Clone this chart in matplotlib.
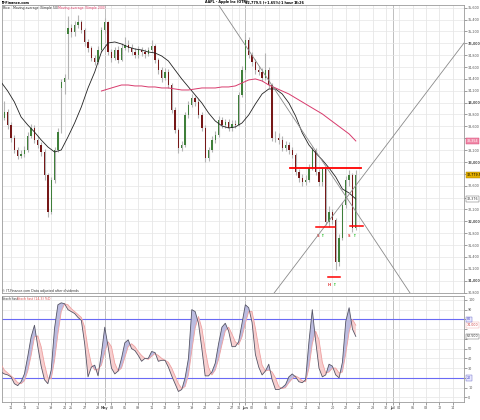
import numpy as np
import matplotlib
matplotlib.use("Agg")
import matplotlib.pyplot as plt
import matplotlib.transforms as mtransforms

# bars: two per trading day, x in trading-day units (0 = Apr 11)
bar_start = -1.5
bar_step = 0.5

closes = [
    33741, 33842, 33623, 33404, 33202, 33101, 33135, 33202, 33438, 33573,
    33371, 33286, 33168, 32781, 32158, 32697, 33202, 33505, 34348, 34415,
    35258, 35190, 35308, 35359, 35224, 35022, 34921, 34752, 34685, 34887,
    35224, 35359, 34853, 34752, 34887, 34719, 34921, 34971, 34921, 34853,
    34803, 34887, 34853, 34820, 34887, 34955, 34719, 34550, 34415, 34516,
    34297, 33876, 33539, 33236, 33286, 33792, 33960, 34078, 34011, 33792,
    33573, 33067, 33202, 33371, 33455, 33708, 33623, 33674, 33573, 33640,
    33623, 34129, 34550, 35056, 34803, 34685, 34550, 34516, 34415, 34550,
    34297, 33404, 33404, 33371, 33236, 33286, 33202, 33118, 32831, 32730,
    32663, 32697, 32899, 33202, 32831, 32663, 32880, 31989, 32158, 32023,
    31315, 31720, 32276, 32697, 32781, 31888, 32779.5]
highs = [
    33800, 34030, 33900, 33680, 33450, 33260, 33200, 33270, 33500, 33640,
    33620, 33430, 33330, 33220, 32820, 32740, 33250, 33580, 34400, 34480,
    35460, 35320, 35380, 35470, 35400, 35260, 35080, 34960, 34800, 34950,
    35280, 35420, 35380, 34900, 34940, 34950, 35000, 35100, 35050, 34980,
    34920, 34950, 34930, 34900, 34940, 35060, 34990, 34760, 34600, 34580,
    34560, 34330, 33920, 33580, 33350, 33850, 34030, 34150, 34120, 34060,
    33840, 33620, 33260, 33430, 33520, 33780, 33760, 33730, 33720, 33700,
    33700, 34180, 34620, 35170, 35100, 34860, 34740, 34620, 34580, 34830,
    34600, 34330, 33520, 33480, 33430, 33360, 33330, 33260, 33150, 32880,
    32800, 32780, 32960, 33250, 33230, 32880, 32920, 32920, 32250, 32200,
    32060, 31780, 32330, 32760, 32860, 32820, 32860]
lows = [
    33620, 33700, 33560, 33340, 33150, 33050, 33060, 33090, 33160, 33400,
    33320, 33230, 33100, 32700, 32080, 32120, 32650, 33160, 33480, 34150,
    34400, 35100, 35130, 35250, 35170, 34960, 34850, 34700, 34630, 34650,
    34860, 35180, 34800, 34680, 34720, 34670, 34700, 34880, 34860, 34800,
    34750, 34760, 34790, 34760, 34780, 34850, 34660, 34490, 34350, 34380,
    34240, 33820, 33480, 33150, 33180, 33250, 33740, 33920, 33950, 33740,
    33520, 33000, 33020, 33160, 33320, 33420, 33580, 33570, 33520, 33530,
    33570, 33600, 34100, 34520, 34750, 34620, 34490, 34460, 34360, 34380,
    34240, 33350, 33330, 33300, 33180, 33190, 33140, 33060, 32780, 32670,
    32600, 32620, 32660, 32870, 32780, 32600, 32590, 31940, 31900, 31960,
    31180, 31250, 31680, 32230, 32600, 31820, 31860]
first_open = 33680
gap_opens = {18: 34250, 20: 35150}

# moving averages, one value per trading day
sma50_start = -1.5
sma50 = [
    34348, 34196, 34011, 33758, 33623, 33505, 33371, 33253, 33168, 33202,
    33421, 33657, 33927, 34247, 34516, 34853, 35005, 35022, 34988, 34938,
    34904, 34887, 34853, 34837, 34786, 34702, 34550, 34399, 34264, 34129,
    33994, 33826, 33691, 33607, 33573, 33590, 33657, 33792, 33977, 34146,
    34230, 34230, 34146, 33994, 33775, 33489, 33286, 33151, 33034, 32899,
    32747, 32545, 32477, 32376]
sma200_start = 13.5
sma200 = [
    34196, 34230, 34264, 34297, 34297, 34281, 34281, 34264, 34264, 34247,
    34247, 34230, 34213, 34213, 34230, 34247, 34247, 34247, 34264, 34264,
    34281, 34331, 34382, 34399, 34365, 34297, 34247, 34196, 34146, 34078,
    34011, 33943, 33876, 33809, 33724, 33640, 33556, 33472, 33354]

stoch_k = [
    26, 24, 23, 21, 14, 12, 16, 24, 42, 62,
    74, 52, 32, 18, 14, 28, 71, 95, 97, 96,
    90, 88, 86, 82, 79, 55, 21, 31, 33, 22,
    45, 72, 52, 30, 24, 27, 40, 56, 59, 50,
    48, 43, 37, 40, 40, 47, 46, 37, 38, 38,
    31, 22, 14, 6, 8, 20, 40, 90, 88, 76,
    50, 22, 22, 26, 35, 55, 72, 76, 68, 52,
    52, 57, 76, 95, 92, 77, 44, 31, 23, 27,
    34, 18, 8, 8, 10, 13, 21, 24, 21, 16,
    15, 18, 57, 90, 58, 30, 21, 23, 34, 32,
    23, 20, 36, 78, 92, 70, 62.5]
stoch_d = [
    34, 28, 25, 22, 19, 15, 14, 17, 27, 43,
    62, 63, 52, 34, 20, 19, 38, 65, 88, 96,
    95, 91, 88, 85, 82, 72, 50, 34, 28, 29,
    33, 46, 57, 52, 35, 27, 30, 41, 52, 55,
    52, 47, 43, 40, 39, 42, 45, 43, 40, 38,
    36, 30, 22, 14, 9, 11, 23, 48, 71, 83,
    71, 49, 31, 23, 28, 39, 54, 68, 72, 65,
    57, 54, 62, 76, 88, 88, 71, 51, 33, 27,
    28, 26, 20, 11, 9, 10, 15, 19, 22, 20,
    17, 16, 30, 55, 68, 59, 36, 25, 26, 30,
    30, 25, 26, 45, 67, 80, 74]

tick_days = [0, 2, 4, 6, 8, 9, 11, 13, 14, 15, 17, 19, 21, 23, 25, 27, 29, 31,
             33, 34, 35, 36, 38, 40, 42, 44, 46, 48, 50, 52, 54, 56, 57, 58,
             60, 62, 64, 66]
tick_labels = ["11", "13", "15", "19", "21", "25", "27", "29", "May", "03",
               "05", "09", "11", "13", "17", "19", "23", "25", "27", "31",
               "Jun", "02", "06", "08", "10", "14", "16", "20", "22", "24",
               "28", "30", "Jul", "04", "06", "08", "12", "14"]
month_labels = ["May", "Jun", "Jul"]

# drawn chart annotations (day, price)
downtrend = ([31.0, 59.6], [35645, 30792])
uptrend = ([39.3, 67.66], [30792, 35005])
neckline = ([41.6, 52.2], [32899, 32899])
shoulder_marks = [([45.5, 48.4], 31900), ([47.4, 49.2], 31057), ([50.7, 52.6], 31921)]
shoulder_text = [(46.05, 31760, "S"), (47.75, 30925, "H"), (50.75, 31760, "S")]

last_price = 32779.5
xmin, xmax = -1.35, 67.66

fig = plt.figure(figsize=(4.8, 4.2), dpi=100)
ax = fig.add_axes([2 / 480, 1 - 293 / 420, 462 / 480, 288 / 420])
ax2 = fig.add_axes([2 / 480, 1 - 402 / 420, 462 / 480, 106 / 420])

n = len(closes)
x = bar_start + bar_step * np.arange(n)
c = np.array(closes, dtype=float)
opens = np.r_[first_open, c[:-1]]
for i, v in gap_opens.items():
    opens[i] = v
hi = np.maximum(np.array(highs, dtype=float), np.maximum(opens, c))
lo = np.minimum(np.array(lows, dtype=float), np.minimum(opens, c))
up = c >= opens

ax.vlines(x, lo, hi, color="#b4b4b4", lw=0.8, zorder=2)
body_lo = np.minimum(opens, c)
body_h = np.maximum(np.abs(c - opens), 8)
ax.bar(x[up], body_h[up], bottom=body_lo[up], width=0.2, color="#3f7f3a", lw=0, zorder=3)
ax.bar(x[~up], body_h[~up], bottom=body_lo[~up], width=0.2, color="#761818", lw=0, zorder=3)

x50 = sma50_start + np.arange(len(sma50))
x200 = sma200_start + np.arange(len(sma200))
ax.plot(x50, sma50, color="#222222", lw=0.6, zorder=4)
ax.plot(x200, sma200, color="#d83a6c", lw=0.7, zorder=4)

ax.plot(*downtrend, color="#8a8a8a", lw=0.6, zorder=4)
ax.plot(*uptrend, color="#8a8a8a", lw=0.6, zorder=4)
ax.plot(*neckline, color="#ff0000", lw=1.3, zorder=5)
for xs_, yv in shoulder_marks:
    ax.plot(xs_, [yv, yv], color="#ff0000", lw=1.1, zorder=5)
for tx, ty, s in shoulder_text:
    ax.text(tx, ty, s, color="#e03030", fontsize=2.6, fontweight="bold", ha="right", va="center")
    ax.text(tx + 0.15, ty, "\u2191", color="#22bb22", fontsize=3.2, fontweight="bold", ha="left", va="center")

# grid
for d, lab in zip(tick_days, tick_labels):
    col = "#b4b4b4" if lab in month_labels else "#e6e6e6"
    for a in (ax, ax2):
        a.axvline(d, color=col, lw=0.6, zorder=0)
price_ticks = np.arange(30800, 35601, 200)
for p in price_ticks:
    ax.axhline(p, color="#e6e6e6", lw=0.5, zorder=0)

# value boxes on the right edge hide the tick labels beneath them
price_boxes = [last_price, sma200[-1], sma50[-1]]
stoch_boxes = [stoch_d[-1], stoch_k[-1], 80, 20]

ax.set_xlim(xmin, xmax)
ax.set_ylim(30792, 35645)
ax.set_xticks([])
ax.yaxis.tick_right()
ax.set_yticks(price_ticks)
ax.set_yticklabels(["" if min(abs(p - b) for b in price_boxes) < 100 else f"{p:,}" for p in price_ticks])
for lab, p in zip(ax.get_yticklabels(), price_ticks):
    if p % 1000 == 0:
        lab.set_fontweight("bold")
ax.tick_params(axis="y", labelsize=2.4, length=2, width=0.4, pad=1, colors="#555555")

# stochastic
k = np.array(stoch_k, dtype=float)
dd = np.array(stoch_d, dtype=float)
ax2.fill_between(x, k, dd, where=k >= dd, interpolate=True, color="#bcbce0", lw=0, zorder=2)
ax2.fill_between(x, k, dd, where=k < dd, interpolate=True, color="#f7cfcf", lw=0, zorder=2)
ax2.plot(x, dd, color="#eea0a0", lw=0.6, zorder=3)
ax2.plot(x, k, color="#555566", lw=0.6, zorder=4)
for lv in range(0, 101, 10):
    if lv not in (20, 80):
        ax2.axhline(lv, color="#e6e6e6", lw=0.5, zorder=0)
ax2.axhline(80, color="#6a6af5", lw=0.8, zorder=1)
ax2.axhline(20, color="#6a6af5", lw=0.8, zorder=1)
ax2.set_xlim(xmin, xmax)
ax2.set_ylim(-4.8, 104)
ax2.yaxis.tick_right()
stoch_ticks = list(range(0, 101, 10))
ax2.set_yticks(stoch_ticks)
ax2.set_yticklabels(["" if min(abs(v - b) for b in stoch_boxes) < 5 else str(v) for v in stoch_ticks])
ax2.tick_params(axis="y", labelsize=2.4, length=2, width=0.4, pad=1, colors="#555555")
ax2.set_xticks(tick_days)
ax2.set_xticklabels(tick_labels)
for lab in ax2.get_xticklabels():
    if lab.get_text() in month_labels:
        lab.set_fontweight("bold")
ax2.tick_params(axis="x", labelsize=2.4, length=2, width=0.4, pad=1, colors="#555555")

for a in (ax, ax2):
    for sp in a.spines.values():
        sp.set_color("#9a9a9a")
        sp.set_linewidth(0.6)

tr = mtransforms.blended_transform_factory(ax.transAxes, ax.transData)
tr2 = mtransforms.blended_transform_factory(ax2.transAxes, ax2.transData)
box = dict(boxstyle="square,pad=0.25", lw=0.3)
ax.text(1.006, last_price, f"{last_price:,.1f}", transform=tr, fontsize=2.3, va="center",
        bbox=dict(box, fc="#e5b000", ec="#a07a00"), zorder=6, clip_on=False)
ax.text(1.006, sma200[-1], f"{sma200[-1]:,}", transform=tr, fontsize=2.3, va="center", color="white",
        bbox=dict(box, fc="#f08aa8", ec="#d2386a"), zorder=6, clip_on=False)
ax.text(1.006, sma50[-1], f"{sma50[-1]:,}", transform=tr, fontsize=2.3, va="center", color="#333333",
        bbox=dict(box, fc="white", ec="#555555"), zorder=6, clip_on=False)
ax2.text(1.006, stoch_d[-1], f"{stoch_d[-1]:.3f}", transform=tr2, fontsize=2.3, va="center", color="#d04040",
         bbox=dict(box, fc="white", ec="#eea0a0"), zorder=6, clip_on=False)
ax2.text(1.006, stoch_k[-1], f"{stoch_k[-1]:.3f}", transform=tr2, fontsize=2.3, va="center", color="#333333",
         bbox=dict(box, fc="white", ec="#555555"), zorder=6, clip_on=False)
for lv in (80, 20):
    ax2.text(1.006, lv, str(lv), transform=tr2, fontsize=2.3, va="center", color="#4040c0",
             bbox=dict(box, fc="#e8e8ff", ec="#6060c0"), zorder=6, clip_on=False)


def fx(px):
    return px / 480


def fy(py):
    return 1 - py / 420


hdr = dict(fontsize=2.4, fontweight="bold", va="center")
fig.text(fx(2), fy(2.5), "IT-Finance.com", **hdr)
fig.text(fx(205), fy(2.5), "AAPL - Apple Inc (OTR)", **hdr)
fig.text(fx(245), fy(2.5), "32,779.5 (+1.65%)", **hdr)
fig.text(fx(281), fy(2.5), "1 hour", **hdr)
fig.text(fx(294), fy(2.5), "18:26", **hdr)
fig.text(fx(3), fy(8), "Price", fontsize=2.3, va="center", color="#333333")
fig.text(fx(13), fy(8), "Moving average (Simple 50)", fontsize=2.3, va="center", color="#333333")
fig.text(fx(58), fy(8), "Moving average (Simple 200)", fontsize=2.3, va="center", color="#e0406a")
fig.text(fx(2), fy(291), "\u00a9 IT-Finance.com Data adjusted after dividends", fontsize=2.3, va="center",
         color="#333333")
fig.text(fx(2), fy(298.5), "Stoch fast", fontsize=2.3, va="center", color="#333333")
fig.text(fx(17), fy(298.5), "Stoch fast (14,3) %D", fontsize=2.3, va="center", color="#e05050")

fig.savefig("out.png", dpi=100)
